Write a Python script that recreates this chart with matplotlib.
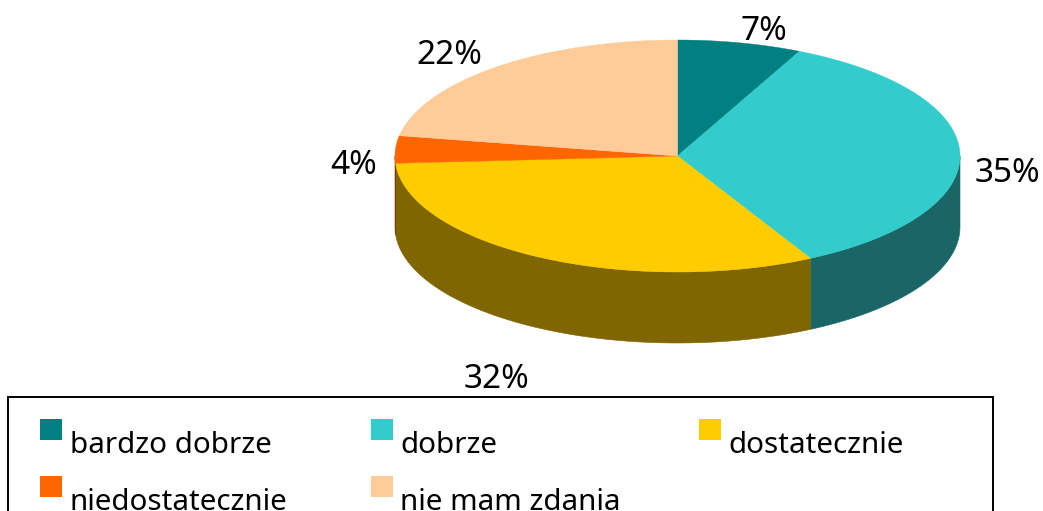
import numpy as np
import matplotlib
matplotlib.use("Agg")
import matplotlib.pyplot as plt
from matplotlib.patches import Rectangle

categories = ["bardzo dobrze", "dobrze", "dostatecznie", "niedostatecznie", "nie mam zdania"]
values = [7.1, 35.1, 31.8, 3.8, 22.2]
value_labels = ["7%", "35%", "32%", "4%", "22%"]

top_colors = ["#008080", "#33CCCC", "#FFCC00", "#FF6600", "#FFCC99"]
side_colors = ["#004040", "#1A6666", "#806600", "#803300", "#806650"]

W, H = 1043, 511
plt.rcParams["font.family"] = ["Noto Sans", "DejaVu Sans"]
fig = plt.figure(figsize=(W / 100, H / 100), dpi=100)
ax = fig.add_axes([0, 0, 1, 1])
ax.set_xlim(0, W)
ax.set_ylim(H, 0)
ax.axis("off")

# Pie geometry in pixels
cx, cy, rx, ry, depth = 677.5, 156.0, 282.5, 116.0, 71.0


def ellipse(theta):
    return cx + rx * np.sin(theta), cy - ry * np.cos(theta)


edges = np.cumsum([0] + values) / sum(values) * 2 * np.pi

# Side walls: the visible front half only
for i in range(len(values)):
    a = max(edges[i], np.pi / 2)
    b = min(edges[i + 1], 3 * np.pi / 2)
    if b <= a:
        continue
    t = np.linspace(a, b, 200)
    x, y = ellipse(t)
    ax.fill(np.r_[x, x[::-1]], np.r_[y, y[::-1] + depth],
            color=side_colors[i], lw=0.4, zorder=2)

# Top face
for i in range(len(values)):
    t = np.linspace(edges[i], edges[i + 1], 200)
    x, y = ellipse(t)
    ax.fill(np.r_[cx, x], np.r_[cy, y], color=top_colors[i], lw=0.3, zorder=3)

# Value labels
label_pos = [(764, 31), (1007, 173), (496, 379), (354, 166), (449, 56)]
for (lx, ly), s in zip(label_pos, value_labels):
    ax.text(lx, ly, s, fontsize=24, ha="center", va="center", color="black", zorder=5)

# Legend box, running off the bottom of the picture
ax.add_patch(Rectangle((8, 397.5), 985, 130, fc="white", ec="black", lw=1.4, zorder=1))
swatch_x = [40, 371, 699, 40, 371]
swatch_y = [419, 419, 419, 476, 476]
text_x = [70, 400, 728, 70, 400]
text_y = [453, 453, 453, 510, 510]
for i, name in enumerate(categories):
    ax.add_patch(Rectangle((swatch_x[i], swatch_y[i]), 22, 21, fc=top_colors[i], ec="none", zorder=4))
    ax.text(text_x[i], text_y[i], name, fontsize=21.3, ha="left", va="baseline",
            color="black", zorder=5)

fig.savefig("out.png", dpi=100)
